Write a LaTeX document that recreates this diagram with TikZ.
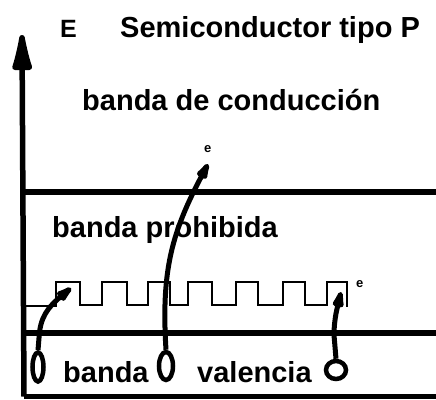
\documentclass[tikz,border=0pt]{standalone}
\usepackage{fontspec}
\setmainfont{Liberation Sans}
\usetikzlibrary{arrows.meta,shapes.geometric}
\tikzset{
  bigtxt/.style={inner sep=0pt, anchor=base west, font=\fontsize{29}{30}\selectfont\bfseries},
  smalltxt/.style={inner sep=0pt, anchor=base west, font=\fontsize{13}{14}\selectfont\bfseries},
  bandline/.style={line width=6.5pt},
  hole/.style={draw, ellipse, line width=4.5pt, inner sep=0pt},
  jump/.style={line width=5pt, -{Latex[length=30pt,width=13pt,round]}},
}
\begin{document}
\begin{tikzpicture}[x=1pt,y=-1pt]
\useasboundingbox (0,0) rectangle (436,399);
% axis
\coordinate (ax0) at (24,396.5);
\coordinate (ax1) at (22,35);
\draw[line width=5.5pt, -{Latex[length=52pt,width=22pt,round]}] (ax0) -- (ax1);
% band lines
\coordinate (c0) at (24,192); \coordinate (c1) at (436,192);
\coordinate (v0) at (24,333); \coordinate (v1) at (436,333);
\coordinate (b0) at (24,396.5); \coordinate (b1) at (436,396.5);
\draw[bandline] (c0) -- (c1);
\draw[bandline] (v0) -- (v1);
\draw[line width=5pt] (b0) -- (b1);
% acceptor levels (square wave)
\draw[line width=1.6pt] (24,306) -- (56,306) -- (56,282) -- (80,282) -- (80,305) -- (102,305) -- (102,282) -- (127,282) -- (127,305) -- (148,305) -- (148,282) -- (170,282) -- (170,305) -- (188,305) -- (188,282) -- (212,282) -- (212,305) -- (236,305) -- (236,282) -- (258,282) -- (258,305) -- (283,305) -- (283,282) -- (305,282) -- (305,305) -- (327,305) -- (327,282) -- (347,282) -- (347,307);
% texts
\node[bigtxt, font=\fontsize{25}{26}\selectfont\bfseries] (tE) at (60,37) {E};
\node[bigtxt] (title) at (120,37) {Semiconductor tipo P};
\node[bigtxt] (tcond) at (82,110) {banda de conducción};
\node[bigtxt] (tproh) at (52,237) {banda prohibida};
\node[bigtxt] (tban) at (63,382) {banda};
\node[bigtxt] (tval) at (197,382) {valencia};
\node[smalltxt] (e1) at (204,152) {e};
\node[smalltxt] (e2) at (356,287) {e};
% holes
\node[hole, minimum width=11pt, minimum height=29pt] (h1) at (38,367) {};
\node[hole, minimum width=14pt, minimum height=28pt] (h2) at (166,366) {};
\node[hole, minimum width=20pt, minimum height=18pt] (h3) at (336,370) {};
% jumps
\coordinate (t1) at (71,288);
\coordinate (t2) at (208,164);
\coordinate (t3) at (341,292);
\draw[jump] (h1.north) -- (39,338) .. controls (40,318) and (47,308) .. (t1);
\draw[jump] (h2.north) .. controls (161,270) and (172,232) .. (t2);
\draw[jump] (h3.north) -- (334,335) .. controls (334,318) and (338,305) .. (t3);
\end{tikzpicture}
\end{document}
